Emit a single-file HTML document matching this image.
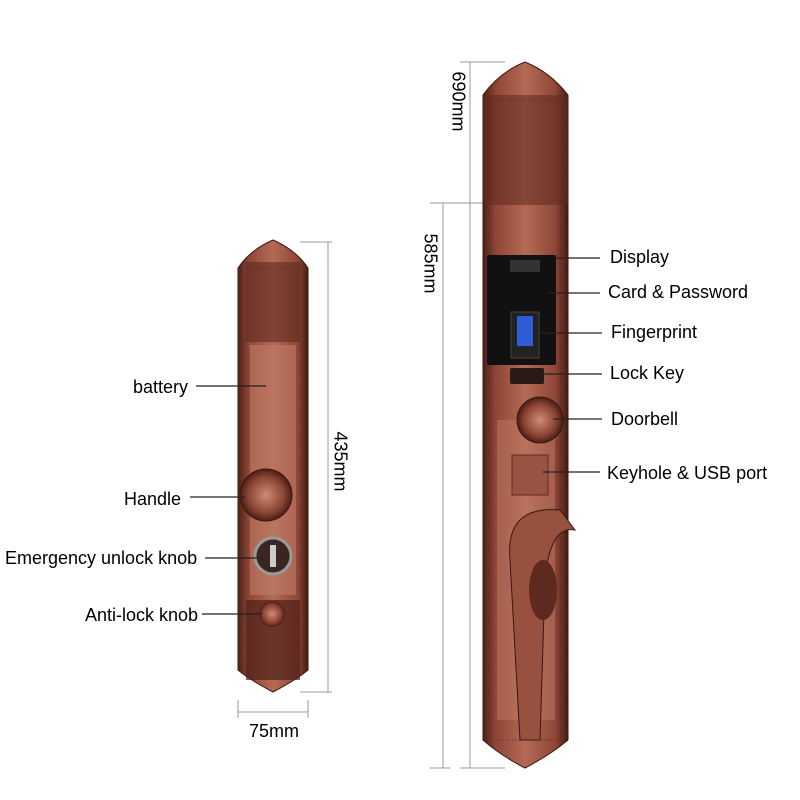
<!DOCTYPE html>
<html><head><meta charset="utf-8"><style>
html,body{margin:0;padding:0;background:#fff;}
body{width:800px;height:800px;position:relative;overflow:hidden;font-family:"Liberation Sans",sans-serif;color:#000;}
.t{position:absolute;font-size:18px;white-space:nowrap;}
</style></head><body>
<svg width="800" height="800" style="position:absolute;left:0;top:0">
<defs>
<linearGradient id="cu" x1="0" x2="1" y1="0" y2="0">
<stop offset="0" stop-color="#4e2018"/><stop offset="0.15" stop-color="#8e4636"/><stop offset="0.5" stop-color="#b56a56"/><stop offset="0.85" stop-color="#8e4636"/><stop offset="1" stop-color="#461c14"/>
</linearGradient>
<radialGradient id="knob"><stop offset="0" stop-color="#d08a74"/><stop offset="0.7" stop-color="#8a4333"/><stop offset="1" stop-color="#4a1e16"/></radialGradient>
</defs>
<!-- left panel -->
<path d="M238,268 Q250,250 273,240 Q296,250 308,268 L308,670 Q296,680 273,692 Q250,680 238,670 Z" fill="url(#cu)" stroke="#3a1810"/>
<rect x="250" y="345" width="46" height="250" fill="#c07c68" opacity="0.6"/>
<rect x="246" y="262" width="54" height="80" fill="#5e2a20" opacity="0.6"/>
<rect x="246" y="600" width="54" height="80" fill="#4e2018" opacity="0.7"/>
<rect x="244" y="268" width="58" height="402" fill="none" stroke="#5a2a20" stroke-dasharray="1,2"/>
<circle cx="266" cy="495" r="26" fill="url(#knob)" stroke="#3a1810"/>
<circle cx="273" cy="556" r="18" fill="#3a2620" stroke="#9a9a9a" stroke-width="3"/>
<rect x="270" y="545" width="6" height="22" fill="#ccc"/>
<circle cx="272" cy="614" r="13" fill="url(#knob)"/>
<g stroke="#999" stroke-width="1" fill="none">
<line x1="328" y1="242" x2="328" y2="692"/><line x1="300" y1="242" x2="332" y2="242"/><line x1="300" y1="692" x2="332" y2="692"/>
<line x1="238" y1="712" x2="308" y2="712"/><line x1="238" y1="700" x2="238" y2="718"/><line x1="308" y1="700" x2="308" y2="718"/>
<line x1="470" y1="62" x2="470" y2="768"/><line x1="460" y1="62" x2="505" y2="62"/><line x1="460" y1="768" x2="505" y2="768"/>
<line x1="443" y1="203" x2="443" y2="768"/><line x1="430" y1="203" x2="485" y2="203"/><line x1="430" y1="768" x2="450" y2="768"/>
</g>
<!-- right panel -->
<path d="M483,95 Q500,72 525,62 Q550,72 568,95 L568,740 Q550,755 525,768 Q500,755 483,740 Z" fill="url(#cu)" stroke="#3a1810"/>
<rect x="483" y="95" width="85" height="110" fill="#5e2a20" opacity="0.55"/>
<rect x="497" y="420" width="58" height="300" fill="#c07c68" opacity="0.45"/>
<rect x="490" y="100" width="71" height="640" fill="none" stroke="#5a2a20" stroke-dasharray="1,2"/>
<rect x="487" y="255" width="69" height="110" fill="#111" rx="2"/>
<rect x="510" y="260" width="30" height="12" fill="#333"/>
<rect x="511" y="312" width="28" height="46" fill="#222" stroke="#444"/>
<rect x="517" y="316" width="16" height="30" fill="#2d5cd6"/>
<rect x="510" y="368" width="34" height="16" fill="#2a1a16" rx="2"/>
<circle cx="540" cy="420" r="23" fill="url(#knob)" stroke="#3a1810"/>
<rect x="512" y="455" width="36" height="40" fill="#9a5242" stroke="#5e2a20"/>
<path d="M560,510 Q505,505 510,560 L520,740 L540,740 L545,580 Q550,525 575,530 Z" fill="#98503f" stroke="#3a1810"/>
<ellipse cx="543" cy="590" rx="14" ry="30" fill="#5e2a20"/>
<g stroke="#222" stroke-width="1.3">
<line x1="196" y1="386" x2="266" y2="386"/>
<line x1="190" y1="497" x2="245" y2="497"/>
<line x1="205" y1="558" x2="263" y2="558"/>
<line x1="202" y1="614" x2="262" y2="614"/>
<line x1="555" y1="258" x2="600" y2="258"/>
<line x1="548" y1="293" x2="600" y2="293"/>
<line x1="540" y1="333" x2="602" y2="333"/>
<line x1="540" y1="374" x2="602" y2="374"/>
<line x1="553" y1="419" x2="602" y2="419"/>
<line x1="543" y1="472" x2="600" y2="472"/>
</g>
</svg>
<div class="t" style="left:133px;top:377px">battery</div>
<div class="t" style="left:124px;top:489px">Handle</div>
<div class="t" style="left:5px;top:548px">Emergency unlock knob</div>
<div class="t" style="left:85px;top:605px">Anti-lock knob</div>
<div class="t" style="left:249px;top:721px">75mm</div>
<div class="t" style="left:310px;top:451px;transform:rotate(90deg)">435mm</div>
<div class="t" style="left:428px;top:91px;transform:rotate(90deg)">690mm</div>
<div class="t" style="left:400px;top:253px;transform:rotate(90deg)">585mm</div>
<div class="t" style="left:610px;top:247px">Display</div>
<div class="t" style="left:608px;top:282px">Card &amp; Password</div>
<div class="t" style="left:611px;top:322px">Fingerprint</div>
<div class="t" style="left:610px;top:363px">Lock Key</div>
<div class="t" style="left:611px;top:409px">Doorbell</div>
<div class="t" style="left:607px;top:463px">Keyhole &amp; USB port</div>
</body></html>
